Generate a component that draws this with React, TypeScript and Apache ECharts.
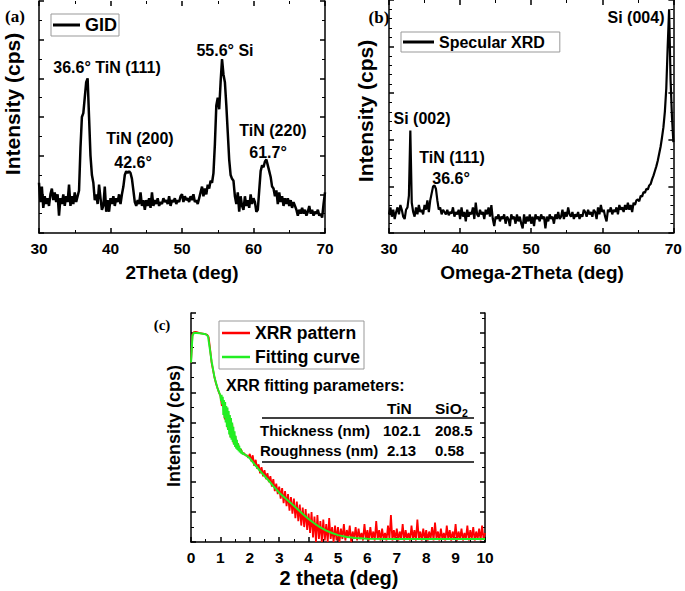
import React, { useEffect, useRef } from "react";
import * as echarts from "echarts";

const FONT = "'Liberation Sans', Arial, Helvetica, sans-serif";
const SERIF = "'Liberation Serif', 'Times New Roman', serif";

// (a) GID: 2Theta from 30 to 70 in 0.2 deg steps
const gidStart = 30;
const gidStep = 0.2;
const gidIntensity = [
  1.3, 0.8, 1.2, 0.65, 0.95,
  0.75, 0.9, 0.7, 1.0, 1.15,
  0.85, 1.05, 0.8, 1.0, 0.45,
  0.9, 0.75, 1.0, 0.7, 0.95,
  0.8, 1.25, 0.7, 0.95, 0.75,
  1.05, 0.8, 0.95, 1.1, 2.2,
  3.0, 3.1, 3.5, 3.9, 4.0,
  3.0, 2.0, 1.5, 1.3, 0.85,
  1.0, 0.75, 1.25, 0.9, 0.6,
  0.7, 1.2, 0.55, 0.85, 0.55,
  0.9, 0.75, 0.95, 0.7, 0.9,
  0.8, 1.0, 0.75, 1.0, 1.2,
  1.5, 1.6, 1.55, 1.6, 1.55,
  1.4, 1.1, 0.8, 0.7, 0.85,
  0.75, 1.05, 0.7, 0.85, 0.6,
  0.85, 0.7, 0.9, 0.65, 1.05,
  0.7, 0.85, 0.75, 0.9, 0.7,
  0.8, 0.75, 0.9, 0.8, 0.85,
  0.75, 0.95, 0.7, 0.85, 0.8,
  0.9, 0.75, 0.85, 0.8, 0.95,
  1.0, 0.8, 0.95, 0.85, 0.9,
  0.8, 0.95, 0.85, 1.0, 0.8,
  0.85, 0.75, 0.9, 1.05, 1.2,
  0.95, 1.15, 1.0, 1.25, 1.15,
  1.35, 1.3, 1.55, 2.3, 3.3,
  3.5, 3.2, 3.9, 4.5, 4.1,
  3.9, 3.3, 2.6, 1.9, 1.5,
  1.4, 1.35, 0.95, 0.75, 1.05,
  0.55, 0.95, 0.7, 0.6, 0.95,
  0.7, 0.85, 0.65, 1.0, 0.75,
  0.9, 0.8, 0.55, 0.6, 1.1,
  1.6, 1.75, 1.7, 1.85, 1.9,
  1.75, 1.6, 1.45, 1.2, 1.15,
  0.95, 1.1, 0.75, 1.05, 0.8,
  0.95, 0.7, 0.9, 0.75, 0.9,
  0.7, 0.85, 0.65, 0.8, 0.7,
  0.6, 0.45, 0.6, 0.5, 0.65,
  0.5, 0.6, 0.45, 0.55, 0.7,
  0.5, 0.6, 0.45, 0.55, 0.5,
  0.6, 0.45, 0.5, 0.4, 0.75,
  1.05,
];

// (b) Specular XRD: Omega-2Theta from 30 to 70 in 0.2 deg steps
const specStart = 30;
const specStep = 0.2;
const specIntensity = [
  0.4, 0.55, 0.35, 0.5, 0.3,
  0.45, 0.55, 0.4, 0.6, 0.5,
  0.35, 0.3, 0.5, 0.55, 0.8,
  2.2, 0.65, 0.45, 0.35, 0.55,
  0.4, 0.6, 0.45, 0.5, 0.4,
  0.6, 0.5, 0.7, 0.45, 0.7,
  0.85, 1.0, 1.02, 0.95, 0.7,
  0.5, 0.55, 0.4, 0.5, 0.45,
  0.4, 0.5, 0.38, 0.45, 0.42,
  0.55, 0.35, 0.45, 0.4, 0.5,
  0.3, 0.55, 0.35, 0.45, 0.25,
  0.5, 0.35, 0.45, 0.4, 0.55,
  0.3, 0.65, 0.4, 0.35, 0.5,
  0.4, 0.45, 0.3, 0.5, 0.4,
  0.55, 0.35, 0.6, 0.3, 0.15,
  0.35, 0.3, 0.4, 0.25, 0.35,
  0.3, 0.4, 0.2, 0.35, 0.3,
  0.15, 0.4, 0.3, 0.35, 0.2,
  0.4, 0.25, 0.35, 0.2, 0.1,
  0.4, 0.2, 0.35, 0.25, 0.4,
  0.2, 0.35, 0.15, 0.4, 0.3,
  0.35, 0.25, 0.4, 0.3, 0.35,
  0.1, 0.35, 0.25, 0.4, 0.3,
  0.35, 0.2, 0.4, 0.3, 0.45,
  0.3, 0.35, 0.5, 0.3, 0.45,
  0.35, 0.55, 0.4, 0.35, 0.45,
  0.3, 0.4, 0.35, 0.45, 0.3,
  0.4, 0.35, 0.5, 0.45, 0.35,
  0.5, 0.4, 0.45, 0.35, 0.5,
  0.45, 0.3, 0.55, 0.4, 0.6,
  0.45, 0.5, 0.35, 0.25, 0.5,
  0.45, 0.55, 0.4, 0.5, 0.45,
  0.55, 0.4, 0.6, 0.5, 0.55,
  0.45, 0.6, 0.5, 0.65, 0.5,
  0.6, 0.45, 0.65, 0.6, 0.7,
  0.72, 0.68, 0.8, 0.78, 0.88,
  0.86, 0.95, 0.93, 1.02, 1.05,
  1.15, 1.23, 1.33, 1.43, 1.55,
  1.7, 1.85, 2.05, 2.27, 2.6,
  3.1, 4.0, 4.8, 3.3, 2.5,
  1.95,
];

// (c) XRR pattern: 2 theta from 0 to 10 in 0.05 deg steps
const xrrStart = 0;
const xrrStep = 0.05;
const xrrIntensity = [
  6.0, 6.95, 7.02, 7.03, 7.02, 7.0, 6.99, 6.98, 6.97, 6.96, 6.95, 6.93, 6.85, 6.45, 6.0, 5.75, 5.5, 5.3, 5.15, 5.0,
  4.9, 4.55, 4.7, 4.1, 4.5, 3.8, 4.25, 3.5, 3.95, 3.3, 3.55, 3.15, 3.3, 3.05, 3.1, 2.95, 2.98, 2.9, 2.9, 2.82,
  2.95, 2.7, 2.9, 2.55, 2.75, 2.45, 2.6, 2.3, 2.5, 2.2, 2.4, 2.1, 2.3, 2.0, 2.2, 1.85, 2.1, 1.7, 1.95, 1.6,
  1.85, 1.45, 1.8, 1.3, 1.7, 1.2, 1.6, 1.05, 1.5, 0.95, 1.45, 0.8, 1.35, 0.7, 1.25, 0.55, 1.15, 0.5, 1.1, 0.4,
  0.95, 0.3, 1.0, 0.15, 0.85, 0.0, 0.9, 0.1, 0.7, 0.0, 0.75, 0.05, 0.6, 0.0, 0.8, 0.1, 0.5, 0.0, 0.55, 0.05,
  0.5, 0.0, 0.45, 0.1, 0.6, 0.05, 0.4, 0.15, 0.55, 0.0, 0.35, 0.1, 0.5, 0.05, 0.45, 0.1, 0.3, 0.05, 0.6, 0.1,
  0.4, 0.05, 0.5, 0.1, 0.35, 0.05, 0.7, 0.1, 0.4, 0.05, 0.45, 0.1, 0.3, 0.05, 0.55, 0.1, 0.9, 0.05, 0.4, 0.1,
  0.45, 0.05, 0.35, 0.1, 0.6, 0.05, 0.4, 0.1, 0.3, 0.05, 0.55, 0.1, 0.4, 0.05, 0.75, 0.1, 0.35, 0.05, 0.45, 0.1,
  0.4, 0.05, 0.35, 0.1, 0.5, 0.05, 0.65, 0.1, 0.35, 0.05, 0.45, 0.1, 0.3, 0.05, 0.55, 0.1, 0.4, 0.05, 0.35, 0.1,
  0.6, 0.05, 0.35, 0.1, 0.45, 0.05, 0.3, 0.1, 0.55, 0.05, 0.4, 0.1, 0.5, 0.05, 0.35, 0.1, 0.45, 0.05, 0.55, 0.1,
  0.3,
];

// (c) Fitting curve
const fitAngle = [
  0, 0.05, 0.1, 0.3, 0.5, 0.58, 0.62, 0.7, 0.8, 0.9, 1.0,
  1.02, 1.04, 1.06, 1.08, 1.1, 1.12, 1.14, 1.16, 1.18, 1.2,
  1.22, 1.24, 1.26, 1.28, 1.3, 1.32, 1.34, 1.36, 1.38, 1.4,
  1.42, 1.44, 1.46, 1.48, 1.5, 1.52, 1.54, 1.56, 1.58, 1.6,
  1.62, 1.64, 1.66, 1.68, 1.7, 1.72, 1.74, 1.76, 1.78, 1.8,
  1.9, 2.0, 2.2, 2.4, 2.6, 2.8, 3.0, 3.2, 3.4, 3.6, 3.8, 4.0,
  4.2, 4.4, 4.6, 4.8, 5.0, 5.3, 5.6, 6.0, 7.0, 8.0, 9.0, 10.0,
];
const fitIntensity = [
  6.0, 6.9, 7.0, 6.98, 6.95, 6.88, 6.6, 6.05, 5.5, 5.15, 4.9,
  4.72, 4.92, 4.6, 4.86, 4.25, 4.75, 4.15, 4.68, 4.0, 4.55,
  3.85, 4.5, 3.75, 4.38, 3.6, 4.25, 3.5, 4.15, 3.42, 4.0,
  3.35, 3.85, 3.25, 3.7, 3.18, 3.55, 3.12, 3.42, 3.08, 3.3,
  3.04, 3.22, 3.0, 3.14, 2.96, 3.06, 2.94, 3.0, 2.92, 2.95,
  2.88, 2.8, 2.55, 2.32, 2.1, 1.87, 1.65, 1.47, 1.3, 1.12, 0.94, 0.77,
  0.62, 0.49, 0.38, 0.3, 0.23, 0.17, 0.13, 0.11, 0.1, 0.1, 0.1, 0.1,
];

const tableRows = ["Thickness (nm)", "Roughness (nm)"];
const tinValues = ["102.1", "2.13"];
const sio2Values = ["208.5", "0.58"];

const black = "#000";

function xBottom(gridIndex: number, min: number, max: number, interval: number) {
  return {
    type: "value",
    gridIndex,
    position: "bottom",
    min,
    max,
    interval,
    axisLine: { show: true, onZero: false, lineStyle: { color: black, width: 1.5 } },
    axisTick: { show: true, inside: true, length: 5, lineStyle: { color: black, width: 1.5 } },
    minorTick: { show: true, splitNumber: 2, length: 3, lineStyle: { color: black, width: 1 } },
    axisLabel: { show: true, color: black, fontFamily: FONT, fontWeight: "bold", fontSize: 15.5, margin: 7 },
    splitLine: { show: false },
    minorSplitLine: { show: false },
  };
}
function xTop(gridIndex: number, min: number, max: number, interval: number) {
  return {
    type: "value",
    gridIndex,
    position: "top",
    min,
    max,
    interval,
    axisLine: { show: false, onZero: false },
    axisTick: { show: true, inside: true, length: 5, lineStyle: { color: black, width: 1.5 } },
    minorTick: { show: true, splitNumber: 2, length: 3, lineStyle: { color: black, width: 1 } },
    axisLabel: { show: false },
    splitLine: { show: false },
  };
}
function yAxisOf(gridIndex: number, max: number, minor: number, position: string) {
  return {
    type: "value",
    gridIndex,
    position,
    min: 0,
    max,
    interval: 1,
    axisLine: { show: true, onZero: false, lineStyle: { color: black, width: 1.5 } },
    axisTick: { show: true, inside: true, length: 5, lineStyle: { color: black, width: 1.5 } },
    minorTick: { show: true, splitNumber: minor, length: 3, lineStyle: { color: black, width: 1 } },
    axisLabel: { show: false },
    splitLine: { show: false },
    minorSplitLine: { show: false },
  };
}

function txt(text: string, x: number, y: number, size: number, extra: any = {}) {
  return {
    type: "text",
    x,
    y,
    rotation: extra.rotation || 0,
    style: {
      text,
      fill: black,
      fontFamily: extra.family || FONT,
      fontWeight: "bold",
      fontSize: size,
      align: extra.align || "center",
      verticalAlign: "middle",
    },
  };
}
function hline(x1: number, x2: number, y: number) {
  return { type: "line", shape: { x1, y1: y, x2, y2: y }, style: { stroke: black, lineWidth: 1.5 } };
}

export default function App() {
  const ref = useRef<HTMLDivElement>(null);
  useEffect(() => {
    document.body.style.margin = "0";
    if (!ref.current) return;
    const chart = echarts.init(ref.current, undefined, { renderer: "svg" });

    const gidData = gidIntensity.map((v, i) => [gidStart + i * gidStep, v]);
    const specData = specIntensity.map((v, i) => [specStart + i * specStep, v]);
    const xrrData = xrrIntensity.map((v, i) => [xrrStart + i * xrrStep, v]);
    const fitData = fitAngle.map((a, i) => [a, fitIntensity[i]]);

    const legendText = { fontFamily: FONT, fontWeight: "bold", color: black };

    const graphic: any[] = [
      // panel labels
      txt("(a)", 15, 16, 17, { family: SERIF }),
      txt("(b)", 379, 17, 17, { family: SERIF }),
      txt("(c)", 162, 325, 15, { family: SERIF }),
      // axis titles
      txt("Intensity (cps)", 12, 104, 21, { rotation: Math.PI / 2 }),
      txt("2Theta (deg)", 182, 272, 19),
      txt("Intensity (cps)", 365, 111, 21, { rotation: Math.PI / 2 }),
      txt("Omega-2Theta (deg)", 532, 272, 19),
      txt("Intensity (cps)", 174, 426, 18, { rotation: Math.PI / 2 }),
      txt("2 theta (deg)", 339, 578, 20),
      // peak annotations (a)
      txt("36.6° TiN (111)", 107, 67, 16),
      txt("TiN (200)", 140, 138, 16),
      txt("42.6°", 133, 162, 16),
      txt("55.6° Si", 225, 50, 16),
      txt("TiN (220)", 273, 130, 16),
      txt("61.7°", 268, 152, 16),
      // peak annotations (b)
      txt("Si (004)", 636, 17, 16),
      txt("Si (002)", 422, 118, 16),
      txt("TiN (111)", 452, 157, 16),
      txt("36.6°", 451, 178, 16),
      // XRR table
      txt("XRR fitting parameters:", 226, 385, 16, { align: "left" }),
      txt("TiN", 387, 408, 15.5, { align: "left" }),
      txt("SiO", 435, 408, 15.5, { align: "left" }),
      txt("2", 462, 413, 10.5, { align: "left" }),
      hline(262, 474, 418),
      txt(tableRows[0], 260, 430, 15, { align: "left" }),
      txt(tinValues[0], 383, 430, 15, { align: "left" }),
      txt(sio2Values[0], 435, 430, 15, { align: "left" }),
      txt(tableRows[1], 260, 450, 15, { align: "left" }),
      txt(tinValues[1], 387, 450, 15, { align: "left" }),
      txt(sio2Values[1], 435, 450, 15, { align: "left" }),
      hline(262, 474, 462),
    ];

    chart.setOption({
      animation: false,
      backgroundColor: "#fff",
      grid: [
        { left: 39, top: 1, width: 286, height: 232 },
        { left: 389, top: -2, width: 286, height: 235 },
        { left: 191, top: 313, width: 294, height: 229 },
      ],
      xAxis: [
        xBottom(0, 30, 70, 10),
        xTop(0, 30, 70, 10),
        xBottom(1, 30, 70, 10),
        xTop(1, 30, 70, 10),
        xBottom(2, 0, 10, 1),
      ],
      yAxis: [
        yAxisOf(0, 6, 2, "left"),
        yAxisOf(0, 6, 2, "right"),
        yAxisOf(1, 5, 5, "left"),
        yAxisOf(1, 5, 5, "right"),
        yAxisOf(2, 7.66, 2, "left"),
        yAxisOf(2, 7.66, 2, "right"),
      ],
      legend: [
        {
          data: ["GID"],
          left: 51,
          top: 14,
          orient: "vertical",
          icon: "rect",
          itemWidth: 27,
          itemHeight: 3,
          padding: [2, 2, 2, 2],
          borderColor: "#999",
          borderWidth: 1,
          textStyle: { ...legendText, fontSize: 18 },
        },
        {
          data: ["Specular XRD"],
          left: 401,
          top: 32,
          orient: "vertical",
          icon: "rect",
          itemWidth: 31,
          itemHeight: 3,
          padding: [2, 15, 2, 2],
          borderColor: "#999",
          borderWidth: 1,
          textStyle: { ...legendText, fontSize: 16 },
        },
        {
          data: ["XRR pattern", "Fitting curve"],
          left: 219,
          top: 321,
          orient: "vertical",
          icon: "rect",
          itemWidth: 28,
          itemHeight: 2.5,
          itemGap: 6,
          padding: [3, 4, 3, 3],
          borderColor: "#999",
          borderWidth: 1,
          textStyle: { ...legendText, fontSize: 17.5 },
        },
      ],
      series: [
        {
          name: "GID",
          type: "line",
          xAxisIndex: 0,
          yAxisIndex: 0,
          data: gidData,
          symbol: "none",
          showSymbol: false,
          color: black,
          lineStyle: { color: black, width: 2.5 },
        },
        {
          name: "Specular XRD",
          type: "line",
          xAxisIndex: 2,
          yAxisIndex: 2,
          data: specData,
          symbol: "none",
          showSymbol: false,
          color: black,
          lineStyle: { color: black, width: 2.2 },
        },
        {
          name: "XRR pattern",
          type: "line",
          xAxisIndex: 4,
          yAxisIndex: 4,
          data: xrrData,
          symbol: "none",
          showSymbol: false,
          color: "#ff0000",
          lineStyle: { color: "#ff0000", width: 1.8 },
        },
        {
          name: "Fitting curve",
          type: "line",
          xAxisIndex: 4,
          yAxisIndex: 4,
          data: fitData,
          symbol: "none",
          showSymbol: false,
          color: "#22ee22",
          lineStyle: { color: "#22ee22", width: 2 },
        },
      ],
      graphic,
    });

    return () => {
      chart.dispose();
    };
  }, []);

  return <div ref={ref} style={{ width: 685, height: 591 }} />;
}
